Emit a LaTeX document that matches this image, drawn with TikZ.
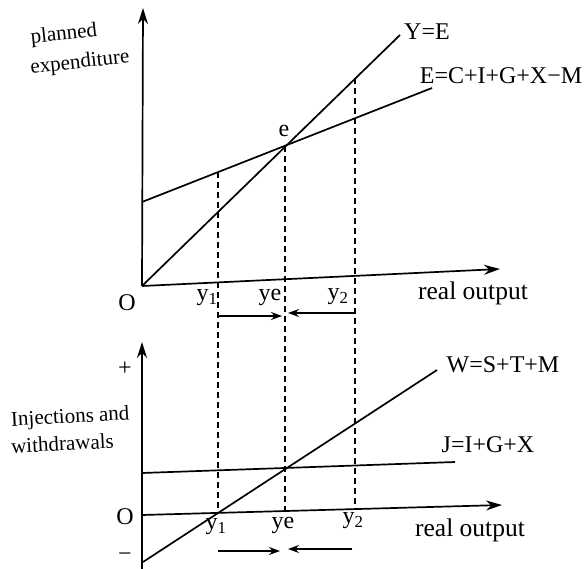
\documentclass[tikz,border=0pt]{standalone}
\usepackage{fontspec}
\setmainfont{Liberation Serif}
\usetikzlibrary{arrows.meta}
\begin{document}
\begin{tikzpicture}[x=1pt,y=-1pt,
  axis/.style={line width=1.7pt,-{Stealth[length=16pt,width=10pt]}},
  curve/.style={line width=1.7pt},
  guide/.style={line width=1.4pt,dash pattern=on 6pt off 4pt},
  move/.style={line width=1.4pt,-{Stealth[length=11pt,width=8pt]}},
  axlbl/.style={inner sep=0pt,font=\fontsize{21}{24}\selectfont},
  eqlbl/.style={inner sep=0pt,font=\fontsize{24}{26}\selectfont},
  ticklbl/.style={inner sep=0pt,font=\fontsize{24}{26}\selectfont},
  outlbl/.style={inner sep=0pt,font=\fontsize{25.5}{28}\selectfont},
  ]
\useasboundingbox (0,0) rectangle (586,569);
% ---------- top panel ----------
\coordinate (O1) at (142,286);
\coordinate (Ytip1) at (143,8);
\coordinate (Xtip1) at (500,269);
\coordinate (YEend) at (400,35);
\coordinate (Estart) at (142,202);
\coordinate (Eend) at (432,88);
\coordinate (e) at (285,146);
\coordinate (t1) at (218,172);
\coordinate (t2) at (355,78);
\draw[axis] (O1) -- (Ytip1);
\draw[axis] (O1) -- (Xtip1);
\draw[curve] (O1) -- (YEend);
\draw[curve] (Estart) -- (Eend);
% ---------- bottom panel ----------
\coordinate (O2) at (142,515);
\coordinate (Ybot) at (142,569);
\coordinate (Ytip2) at (142,342);
\coordinate (Xtip2) at (502,505);
\coordinate (Jstart) at (142,473);
\coordinate (Jend) at (455,462);
\coordinate (Wstart) at (143,562);
\coordinate (Wend) at (437,370);
\coordinate (b1) at (218,513);
\coordinate (be) at (285,511);
\coordinate (b2) at (355,509);
\draw[axis] (Ybot) -- (Ytip2);
\draw[axis] (O2) -- (Xtip2);
\draw[curve] (Jstart) -- (Jend);
\draw[curve] (Wstart) -- (Wend);
% ---------- guides ----------
\draw[guide] (t1) -- (b1);
\draw[guide] (e) -- (be);
\draw[guide] (t2) -- (b2);
% ---------- movement arrows ----------
\coordinate (ma1) at (218,316);
\coordinate (ma2) at (282,316);
\coordinate (mb1) at (355,313);
\coordinate (mb2) at (288,313);
\coordinate (mc1) at (218,551);
\coordinate (mc2) at (280,551);
\coordinate (md1) at (352,549);
\coordinate (md2) at (288,549);
\draw[move] (ma1) -- (ma2);
\draw[move] (mb1) -- (mb2);
\draw[move] (mc1) -- (mc2);
\draw[move] (md1) -- (md2);
% ---------- labels ----------
\node[axlbl,rotate=6] (lp) at (64,35) {planned};
\node[axlbl,rotate=6] (lx) at (80,63) {expenditure};
\node[eqlbl] (lYE) at (427,32) {Y=E};
\node[eqlbl] (lE) at (501,76) {E=C+I+G+X−M};
\node[eqlbl] (le) at (284,131) {e};
\node[ticklbl] (lO1) at (127,303) {O};
\node[ticklbl] (ly1) at (207,298) {y\textsubscript{1}};
\node[ticklbl] (lye) at (270,297) {ye};
\node[ticklbl] (ly2) at (338,297) {y\textsubscript{2}};
\node[outlbl] (lro1) at (473,293) {real output};
\node[axlbl,rotate=3,anchor=west] (li) at (11,421) {Injections and};
\node[axlbl,rotate=3,anchor=west] (lw) at (11,446) {withdrawals};
\node[ticklbl] (lplus) at (125,369) {+};
\node[ticklbl] (lO2) at (125,517) {O};
\node[ticklbl] (lminus) at (125,557) {−};
\node[eqlbl] (lW) at (503,365) {W=S+T+M};
\node[eqlbl] (lJ) at (488,445) {J=I+G+X};
\node[ticklbl] (ly1b) at (216,527) {y\textsubscript{1}};
\node[ticklbl] (lyeb) at (283,525) {ye};
\node[ticklbl] (ly2b) at (353,521) {y\textsubscript{2}};
\node[outlbl] (lro2) at (470,530) {real output};
\end{tikzpicture}
\end{document}
